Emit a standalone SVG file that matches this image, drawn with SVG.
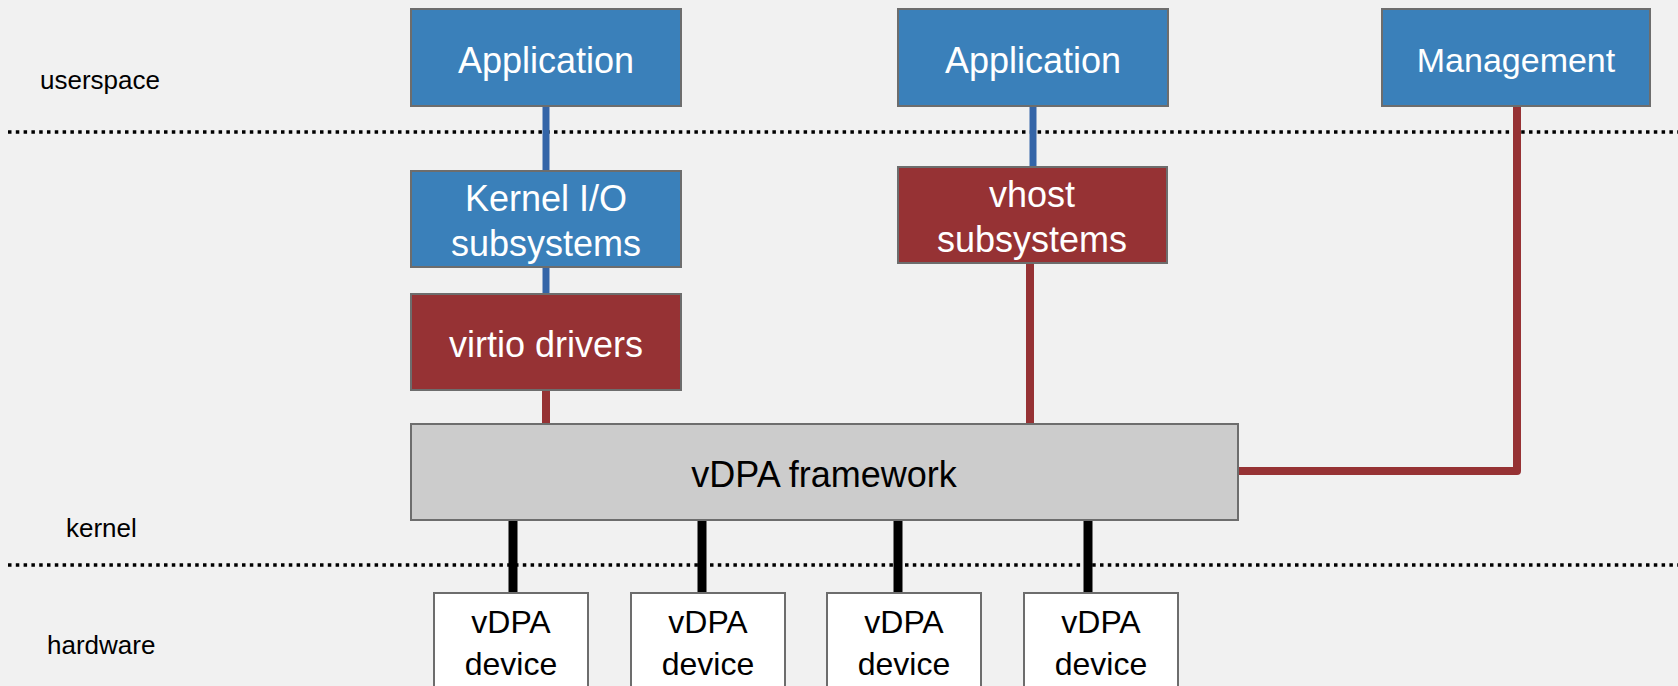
<svg xmlns="http://www.w3.org/2000/svg" width="1678" height="686" viewBox="0 0 1678 686">
<style>
.bg{fill:#f1f1f1}
.sep{stroke:#000;stroke-width:3.5;stroke-dasharray:3.5 4.3;fill:none}
.lbl{font-family:"Liberation Sans",Arial,sans-serif;font-size:26px;fill:#000}
.box{stroke:#6d6d6d;stroke-width:2}
.blue{fill:#3a80ba}
.red{fill:#963234}
.grey{fill:#cccccc}
.white{fill:#ffffff}
.t{font-family:"Liberation Sans",Arial,sans-serif;font-size:36px;fill:#fff;text-anchor:middle}
.tk{font-family:"Liberation Sans",Arial,sans-serif;font-size:36px;fill:#000;text-anchor:middle}
.td{font-family:"Liberation Sans",Arial,sans-serif;font-size:32px;fill:#000;text-anchor:middle}
.cb{stroke:#3465a8;stroke-width:7;fill:none}
.cr{stroke:#963234;stroke-width:8;fill:none;stroke-linejoin:round}
.ck{stroke:#000;stroke-width:9;fill:none}
</style>
<rect class="bg" x="0" y="0" width="1678" height="686"/>
<g id="layers">
<line class="sep" x1="8" y1="132" x2="1678" y2="132"/>
<line class="sep" x1="8" y1="565" x2="1678" y2="565"/>
<text class="lbl" x="40" y="89">userspace</text>
<text class="lbl" x="66" y="537">kernel</text>
<text class="lbl" x="47" y="654">hardware</text>
</g>
<g id="connectors">
<line class="cb" x1="546" y1="105" x2="546" y2="172"/>
<line class="cb" x1="546" y1="266" x2="546" y2="294"/>
<line class="cr" x1="546" y1="388" x2="546" y2="425"/>
<line class="cb" x1="1033" y1="105" x2="1033" y2="168"/>
<line class="cr" x1="1030" y1="262" x2="1030" y2="425"/>
<polyline class="cr" points="1517,105 1517,471 1237,471"/>
<line class="ck" x1="513" y1="519" x2="513" y2="593"/>
<line class="ck" x1="702" y1="519" x2="702" y2="593"/>
<line class="ck" x1="898" y1="519" x2="898" y2="593"/>
<line class="ck" x1="1088" y1="519" x2="1088" y2="593"/>
</g>
<g id="app1"><rect class="box blue" x="411" y="9" width="270" height="97"/><text class="t" x="546" y="73">Application</text></g>
<g id="app2"><rect class="box blue" x="898" y="9" width="270" height="97"/><text class="t" x="1033" y="73">Application</text></g>
<g id="management"><rect class="box blue" x="1382" y="9" width="268" height="97"/><text class="t" x="1516" y="72" style="font-size:34px">Management</text></g>
<g id="kernelio"><rect class="box blue" x="411" y="171" width="270" height="96"/><text class="t" x="546" y="211">Kernel I/O</text><text class="t" x="546" y="256">subsystems</text></g>
<g id="virtio"><rect class="box red" x="411" y="294" width="270" height="96"/><text class="t" x="546" y="357">virtio drivers</text></g>
<g id="vhost"><rect class="box red" x="898" y="167" width="269" height="96"/><text class="t" x="1032" y="207">vhost</text><text class="t" x="1032" y="252">subsystems</text></g>
<g id="framework"><rect class="box grey" x="411" y="424" width="827" height="96"/><text class="tk" x="824" y="487">vDPA framework</text></g>
<g id="dev1"><rect class="box white" x="434" y="593" width="154" height="110"/><text class="td" x="511" y="633">vDPA</text><text class="td" x="511" y="675">device</text></g>
<g id="dev2"><rect class="box white" x="631" y="593" width="154" height="110"/><text class="td" x="708" y="633">vDPA</text><text class="td" x="708" y="675">device</text></g>
<g id="dev3"><rect class="box white" x="827" y="593" width="154" height="110"/><text class="td" x="904" y="633">vDPA</text><text class="td" x="904" y="675">device</text></g>
<g id="dev4"><rect class="box white" x="1024" y="593" width="154" height="110"/><text class="td" x="1101" y="633">vDPA</text><text class="td" x="1101" y="675">device</text></g>
</svg>
